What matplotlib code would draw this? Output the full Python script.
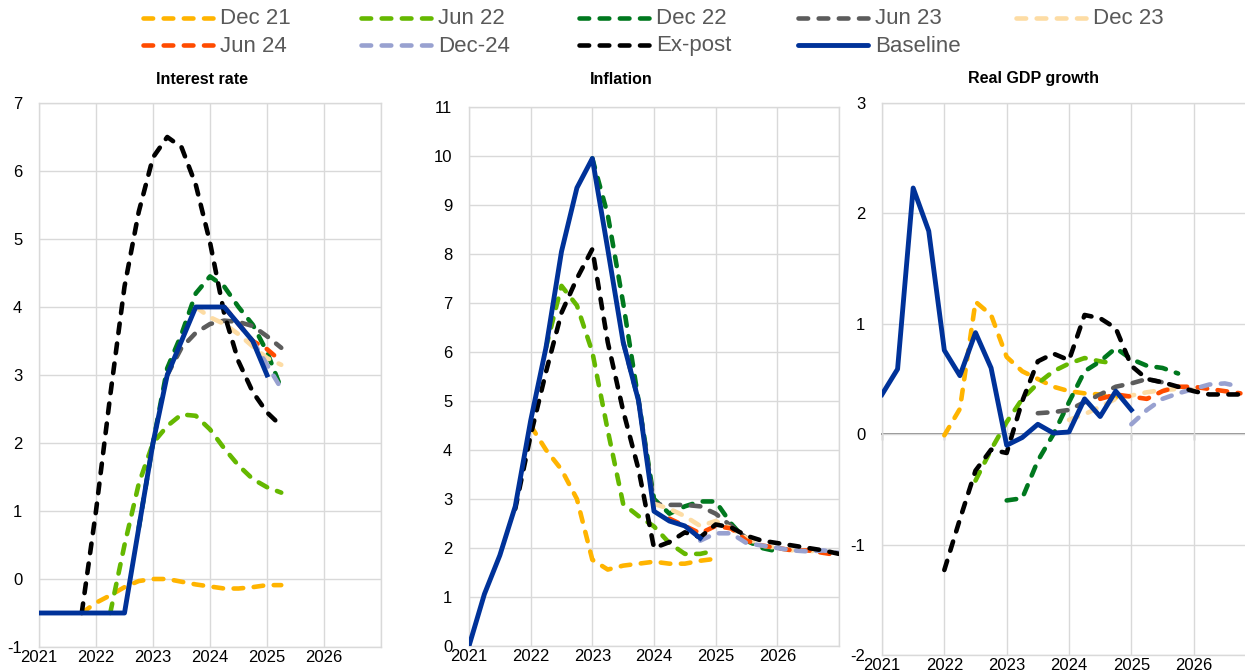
import numpy as np
import matplotlib
matplotlib.use("Agg")
import matplotlib.pyplot as plt
from matplotlib.lines import Line2D

plt.rcParams['font.family'] = ['Liberation Sans', 'DejaVu Sans']

# ---------------------------------------------------------------- data
SERIES = ["Dec 21", "Jun 22", "Dec 22", "Jun 23", "Dec 23",
          "Jun 24", "Dec-24", "Ex-post", "Baseline"]
COLORS = ["#FFB400", "#65B800", "#00781E", "#5C5C5C", "#FDDCA4",
          "#FF4B00", "#98A1D0", "#000000", "#003299"]
YEARS = [2021, 2022, 2023, 2024, 2025, 2026]

# first quarter of each vintage, per panel
RATE_START = ["2021Q4", "2022Q2", "2022Q4", "2023Q2", "2023Q4", "2024Q2", "2024Q4", "2021Q4", "2021Q1"]
INFL_START = ["2022Q1", "2022Q2", "2023Q1", "2023Q3", "2024Q1", "2024Q2", "2024Q4", "2021Q4", "2021Q1"]
GDP_START = ["2022Q1", "2022Q3", "2023Q1", "2023Q3", "2024Q1", "2024Q3", "2025Q1", "2022Q1", "2021Q1"]

# interest rate (%)
rate_dec21 = [-0.5, -0.35, -0.24, -0.12, -0.03, 0.0, 0.0, -0.04, -0.08, -0.11, -0.14, -0.14, -0.12, -0.09, -0.09]
rate_jun22 = [-0.5, 0.5, 1.4, 2.0, 2.25, 2.42, 2.4, 2.2, 1.92, 1.67, 1.47, 1.35, 1.27]
rate_dec22 = [0.75, 2.0, 3.1, 3.6, 4.2, 4.45, 4.3, 4.0, 3.74, 3.34, 2.8]
rate_jun23 = [3.0, 3.4, 3.62, 3.75, 3.8, 3.78, 3.72, 3.57, 3.4]
rate_dec23 = [4.0, 3.85, 3.75, 3.6, 3.42, 3.25, 3.15]
rate_jun24 = [4.0, 3.75, 3.5, 3.38, 3.2]
rate_dec24 = [3.5, 3.15, 2.8]
rate_expost = [-0.5, 1.0, 2.7, 4.3, 5.4, 6.2, 6.5, 6.35, 5.8, 4.95, 3.9, 3.2, 2.75, 2.45, 2.25]
rate_base = [-0.5, -0.5, -0.5, -0.5, -0.5, -0.5, -0.5, 0.75, 2.0, 3.0, 3.5, 4.0, 4.0, 4.0, 3.75, 3.5, 3.0]

# inflation (%)
infl_dec21 = [4.5, 4.0, 3.6, 3.0, 1.76, 1.56, 1.64, 1.68, 1.72, 1.68, 1.68, 1.74, 1.78]
infl_jun22 = [6.1, 7.35, 6.95, 6.0, 4.4, 2.9, 2.65, 2.44, 2.1, 1.88, 1.88, 1.95]
infl_dec22 = [9.95, 8.8, 7.0, 5.0, 3.0, 2.7, 2.85, 2.95, 2.95, 2.5, 2.15, 2.0, 1.93]
infl_jun23 = [6.2, 5.0, 2.9, 2.88, 2.88, 2.85, 2.7, 2.45, 2.2]
infl_dec23 = [2.9, 2.8, 2.65, 2.45, 2.55, 2.4, 2.2, 2.05, 2.0, 1.95, 1.95, 1.9]
infl_jun24 = [2.6, 2.45, 2.3, 2.45, 2.4, 2.15, 2.05, 2.0, 1.95, 1.95, 1.9, 1.85]
infl_dec24 = [2.15, 2.3, 2.3, 2.1, 2.05, 2.0, 1.95, 1.93, 1.95, 1.9]
infl_expost = [2.8, 4.3, 5.6, 6.8, 7.5, 8.1, 6.2, 4.8, 3.6, 2.0, 2.12, 2.32, 2.22, 2.48, 2.42, 2.25,
               2.15, 2.1, 2.05, 2.0, 1.95, 1.88]
infl_base = [0.0, 1.06, 1.85, 2.85, 4.6, 6.1, 8.05, 9.35, 9.95, 8.1, 6.2, 5.0, 2.75, 2.55, 2.45, 2.2]

# real GDP growth (% q-o-q)
gdp_dec21 = [-0.01, 0.23, 1.2, 1.08, 0.7, 0.57, 0.5, 0.43, 0.39, 0.37, 0.36, 0.33]
gdp_jun22 = [-0.42, -0.14, 0.11, 0.32, 0.46, 0.57, 0.64, 0.69, 0.66, 0.64]
gdp_dec22 = [-0.6, -0.58, -0.24, 0.0, 0.29, 0.57, 0.66, 0.78, 0.68, 0.62, 0.6, 0.55]
gdp_jun23 = [0.19, 0.2, 0.22, 0.29, 0.36, 0.43, 0.46, 0.5, 0.47]
gdp_dec23 = [0.13, 0.18, 0.25, 0.32, 0.35, 0.38, 0.4, 0.41, 0.4]
gdp_jun24 = [0.32, 0.36, 0.34, 0.32, 0.39, 0.43, 0.43, 0.41, 0.39, 0.37]
gdp_dec24 = [0.09, 0.22, 0.32, 0.37, 0.41, 0.45, 0.46, 0.43]
gdp_expost = [-1.23, -0.77, -0.33, -0.14, -0.17, 0.3, 0.66, 0.73, 0.67, 1.08, 1.05, 0.96, 0.62, 0.5,
              0.47, 0.43, 0.39, 0.36, 0.36, 0.36]
gdp_base = [0.36, 0.59, 2.23, 1.84, 0.76, 0.53, 0.92, 0.6, -0.1, -0.03, 0.09, 0.01, 0.02, 0.32, 0.16,
            0.39, 0.22]

RATE = [rate_dec21, rate_jun22, rate_dec22, rate_jun23, rate_dec23, rate_jun24, rate_dec24, rate_expost, rate_base]
INFL = [infl_dec21, infl_jun22, infl_dec22, infl_jun23, infl_dec23, infl_jun24, infl_dec24, infl_expost, infl_base]
GDP = [gdp_dec21, gdp_jun22, gdp_dec22, gdp_jun23, gdp_dec23, gdp_jun24, gdp_dec24, gdp_expost, gdp_base]


def quarters(start, n):
    """Decimal-year positions of n consecutive quarters from 'YYYYQn'."""
    year, q = int(start[:4]), int(start[-1])
    return year + (q - 1) / 4 + 0.25 * np.arange(n)


# ---------------------------------------------------------------- layout
W, H = 1245, 672
fig = plt.figure(figsize=(W / 100, H / 100), dpi=100)


def px_axes(left, top, right, bottom):
    return fig.add_axes([left / W, 1 - bottom / H, (right - left) / W, (bottom - top) / H])


GRID = "#D9D9D9"
LW_DASH = 3.3
LW_BASE = 3.5
DASHES = (2.1, 2.3)


def style_axes(ax, ylim, yticks):
    ax.set_xlim(2021, 2027)
    ax.set_ylim(*ylim)
    ax.set_xticks(YEARS + [2027])
    ax.set_xticklabels([str(y) for y in YEARS] + [""])
    ax.set_yticks(yticks)
    ax.set_yticklabels([str(t) for t in yticks])
    ax.grid(True, color=GRID, lw=1.0)
    ax.set_axisbelow(True)
    for s in ax.spines.values():
        s.set_color(GRID)
        s.set_linewidth(1.0)
    ax.tick_params(axis="both", length=0, labelsize=12, colors="black")
    ax.tick_params(axis="y", pad=12)
    ax.tick_params(axis="x", pad=2)


def draw_series(ax, starts, data):
    for name, color, start, vals in zip(SERIES, COLORS, starts, data):
        x = quarters(start, len(vals))
        if name == "Baseline":
            ax.plot(x, vals, color=color, lw=LW_BASE, solid_joinstyle="round", zorder=5)
        else:
            ax.plot(x, vals, color=color, lw=LW_DASH, dashes=DASHES,
                    dash_capstyle="round", dash_joinstyle="round", zorder=3)


ax1 = px_axes(39, 103, 381, 647)
style_axes(ax1, (-1, 7), list(range(-1, 8)))
draw_series(ax1, RATE_START, RATE)

ax2 = px_axes(469, 107, 839, 646)
style_axes(ax2, (0, 11), list(range(0, 12)))
draw_series(ax2, INFL_START, INFL)

ax3 = px_axes(882, 103, 1256, 655)
style_axes(ax3, (-2, 3), list(range(-2, 4)))
draw_series(ax3, GDP_START, GDP)
# horizontal axis line crossing at zero, with small outward ticks
zero_ax = ax3.secondary_xaxis(2 / 5)
zero_ax.set_xticks(YEARS + [2027])
zero_ax.set_xticklabels([])
zero_ax.tick_params(length=4, width=1.0, color="#8C8C8C", direction="out")
zero_ax.spines["bottom"].set_color("#8C8C8C")
zero_ax.spines["bottom"].set_linewidth(1.4)

# panel titles
for txt, xp in [("Interest rate", 202), ("Inflation", 621), ("Real GDP growth", 1033)]:
    fig.text(xp / W, 1 - 79 / H, txt, ha="center", va="center",
             fontsize=11.5, fontweight="bold", color="black")

# ---------------------------------------------------------------- legend
col_x = [143, 361, 579, 798, 1016]
row_y = [18, 45]
for i, (name, color) in enumerate(zip(SERIES, COLORS)):
    r, c = divmod(i, 5)
    x0, y0 = col_x[c], row_y[r]
    xs = [x0 / W, (x0 + 70) / W]
    ys = [1 - y0 / H] * 2
    if name == "Baseline":
        ln = Line2D(xs, ys, color=color, lw=LW_BASE, solid_capstyle="round",
                    transform=fig.transFigure)
    else:
        ln = Line2D(xs, ys, color=color, lw=LW_DASH, dashes=DASHES,
                    dash_capstyle="round", transform=fig.transFigure)
    fig.add_artist(ln)
    fig.text((x0 + 77) / W, 1 - (y0 + 1) / H, name, ha="left", va="center",
             fontsize=16, color="#595959")

fig.savefig("out.png", dpi=100)
